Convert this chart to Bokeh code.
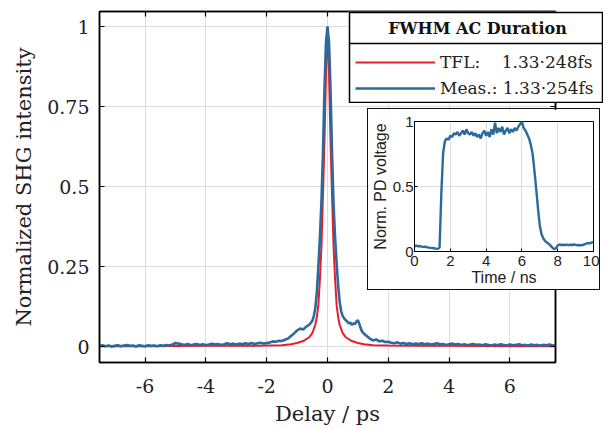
from bokeh.plotting import figure
from bokeh.models import Legend, LegendItem, Label, FixedTicker, LinearAxis, Range1d, Span
from bokeh.embed import file_html
from bokeh.resources import INLINE

# ---------------- data ----------------
tfl_delay = [-7.5, -6.0, -4.0, -3.0, -2.0, -1.5, -1.2, -1.0, -0.8, -0.6, -0.5, -0.4, -0.35,
             -0.3, -0.25, -0.2, -0.15, -0.1, -0.05, 0.0, 0.05, 0.1, 0.15, 0.2, 0.25, 0.3,
             0.35, 0.4, 0.5, 0.6, 0.8, 1.0, 1.2, 1.5, 2.0, 3.0, 4.0, 6.0, 7.5]
tfl_int = [0.001, 0.001, 0.002, 0.002, 0.003, 0.004, 0.007, 0.011, 0.017, 0.029, 0.042, 0.068, 0.092,
           0.13, 0.21, 0.31, 0.47, 0.64, 0.85, 1.0, 0.85, 0.64, 0.47, 0.31, 0.21, 0.13,
           0.092, 0.068, 0.042, 0.029, 0.017, 0.011, 0.007, 0.004, 0.003, 0.002, 0.002, 0.001, 0.001]

meas_delay = [-7.5, -7.4, -7.3, -7.2, -7.1, -7.0, -6.9, -6.8, -6.7, -6.6, -6.5, -6.4, -6.3, -6.2, -6.1,
              -6.0, -5.9, -5.8, -5.7, -5.6, -5.5, -5.4, -5.3, -5.2, -5.1, -5.0, -4.9, -4.8, -4.7, -4.6,
              -4.5, -4.4, -4.3, -4.2, -4.1, -4.0, -3.9, -3.8, -3.7, -3.6, -3.5, -3.4, -3.3, -3.2, -3.1,
              -3.0, -2.9, -2.8, -2.7, -2.6, -2.5, -2.4, -2.3, -2.2, -2.1, -2.0, -1.9, -1.8, -1.7, -1.6,
              -1.5, -1.4, -1.3, -1.2, -1.1, -1.0, -0.9, -0.8, -0.7, -0.6, -0.5, -0.45, -0.4, -0.35,
              -0.3, -0.25, -0.2, -0.15, -0.1, -0.05, 0.0, 0.05, 0.1, 0.15, 0.2, 0.25, 0.3, 0.35, 0.4,
              0.45, 0.5, 0.55, 0.6, 0.65, 0.7, 0.75, 0.8, 0.85, 0.9, 0.95, 1.0, 1.05, 1.1, 1.15, 1.2,
              1.3, 1.4, 1.5, 1.6, 1.7, 1.8, 1.9, 2.0, 2.1, 2.2, 2.3, 2.4, 2.5, 2.6, 2.7, 2.8, 2.9,
              3.0, 3.1, 3.2, 3.3, 3.4, 3.5, 3.6, 3.7, 3.8, 3.9, 4.0, 4.1, 4.2, 4.3, 4.4, 4.5, 4.6,
              4.7, 4.8, 4.9, 5.0, 5.1, 5.2, 5.3, 5.4, 5.5, 5.6, 5.7, 5.8, 5.9, 6.0, 6.1, 6.2, 6.3,
              6.4, 6.5, 6.6, 6.7, 6.8, 6.9, 7.0, 7.1, 7.2, 7.3, 7.4, 7.5]
meas_int = [0.002, 0.004, 0.001, 0.003, 0.000, 0.002, 0.004, 0.001, 0.003, 0.005, 0.002, 0.003, 0.000, 0.004, 0.002,
            0.001, 0.004, 0.002, 0.003, 0.001, 0.004, 0.002, 0.005, 0.003, 0.006, 0.011, 0.009, 0.007, 0.005, 0.008,
            0.004, 0.006, 0.008, 0.005, 0.007, 0.004, 0.006, 0.009, 0.006, 0.008, 0.005, 0.007, 0.010, 0.007, 0.009,
            0.006, 0.009, 0.007, 0.010, 0.008, 0.011, 0.008, 0.010, 0.012, 0.009, 0.011, 0.012, 0.016, 0.015, 0.018,
            0.017, 0.021, 0.025, 0.033, 0.041, 0.050, 0.056, 0.053, 0.062, 0.068, 0.080, 0.095, 0.12, 0.17,
            0.25, 0.34, 0.45, 0.60, 0.80, 0.95, 1.0, 0.95, 0.80, 0.60, 0.44, 0.34, 0.26, 0.19, 0.14,
            0.11, 0.095, 0.088, 0.082, 0.078, 0.072, 0.075, 0.068, 0.072, 0.070, 0.078, 0.082, 0.070, 0.055, 0.045, 0.040,
            0.032, 0.024, 0.019, 0.022, 0.016, 0.018, 0.014, 0.015, 0.012, 0.010, 0.013, 0.009, 0.011, 0.008, 0.010, 0.007, 0.009,
            0.008, 0.010, 0.007, 0.009, 0.006, 0.008, 0.010, 0.007, 0.008, 0.005, 0.007, 0.009, 0.006, 0.008, 0.005, 0.007, 0.004,
            0.006, 0.008, 0.005, 0.006, 0.004, 0.007, 0.005, 0.003, 0.006, 0.004, 0.007, 0.005, 0.003, 0.006, 0.004, 0.005, 0.007,
            0.004, 0.005, 0.003, 0.006, 0.004, 0.005, 0.003, 0.005, 0.004, 0.006, 0.003, 0.004]

pd_time = [0.0, 0.1, 0.2, 0.3, 0.4, 0.5, 0.6, 0.7, 0.8, 0.9, 1.0, 1.1, 1.2, 1.3, 1.4, 1.5, 1.6, 1.7, 1.8, 1.9,
           2.0, 2.1, 2.2, 2.3, 2.4, 2.5, 2.6, 2.7, 2.8, 2.9, 3.0, 3.1, 3.2, 3.3, 3.4, 3.5, 3.6, 3.7, 3.8, 3.9,
           4.0, 4.1, 4.2, 4.3, 4.4, 4.5, 4.6, 4.7, 4.8, 4.9, 5.0, 5.1, 5.2, 5.3, 5.4, 5.5, 5.6, 5.7, 5.8, 5.9,
           6.0, 6.1, 6.2, 6.3, 6.4, 6.5, 6.6, 6.7, 6.8, 6.9, 7.0, 7.1, 7.2, 7.3, 7.4, 7.5, 7.6, 7.7, 7.8, 7.9,
           8.0, 8.1, 8.2, 8.3, 8.4, 8.5, 8.6, 8.7, 8.8, 8.9, 9.0, 9.1, 9.2, 9.3, 9.4, 9.5, 9.6, 9.7, 9.8, 9.9, 10.0]
pd_volt = [0.040, 0.045, 0.040, 0.042, 0.038, 0.035, 0.037, 0.033, 0.030, 0.028, 0.027, 0.025, 0.022, 0.020, 0.030,
           0.45, 0.76, 0.85, 0.87, 0.86, 0.89, 0.88, 0.91, 0.90, 0.92, 0.89, 0.91, 0.93, 0.90, 0.94,
           0.91, 0.90, 0.92, 0.89, 0.91, 0.88, 0.90, 0.87, 0.91, 0.93, 0.89, 0.92, 0.88, 0.94, 0.90,
           0.99, 0.91, 0.95, 0.92, 0.96, 0.90, 0.93, 0.95, 0.91, 0.94, 0.92, 0.95, 0.93, 0.96, 0.98,
           1.0, 0.95, 0.93, 0.90, 0.87, 0.82, 0.75, 0.62, 0.48, 0.33, 0.20, 0.13, 0.10, 0.08, 0.068,
           0.060, 0.045, 0.030, 0.018, 0.025, 0.045, 0.055, 0.050, 0.052, 0.050, 0.053, 0.049, 0.052, 0.050, 0.054,
           0.051, 0.048, 0.050, 0.047, 0.050, 0.055, 0.060, 0.065, 0.062, 0.070, 0.072]

x_ticks = [-6, -4, -2, 0, 2, 4, 6]
x_tick_labels = ["-6", "-4", "-2", "0", "2", "4", "6"]
y_ticks = [0, 0.25, 0.5, 0.75, 1]
y_tick_labels = ["0", "0.25", "0.5", "0.75", "1"]
in_x_ticks = [0, 2, 4, 6, 8, 10]
in_x_tick_labels = ["0", "2", "4", "6", "8", "10"]
in_y_ticks = [0, 0.5, 1]
in_y_tick_labels = ["0", "0.5", "1"]

legend_title = "FWHM AC Duration"
legend_labels = ["TFL:\u00a0\u00a0\u00a0\u00a01.33\u00b7248fs", "Meas.:\u00a01.33\u00b7254fs"]

RED = "#E61E2B"
BLUE = "#2C6A9B"
SERIF = "DejaVu Serif"
SANS = "Liberation Sans"

# ---------------- main figure ----------------
p = figure(width=606, height=429, x_range=Range1d(-7.5, 7.5), y_range=Range1d(-0.05, 1.047),
           output_backend="svg", toolbar_location=None,
           min_border_left=99, min_border_right=51, min_border_top=11, min_border_bottom=67)
p.outline_line_color = "black"
p.outline_line_width = 1.5
p.background_fill_color = "white"
p.border_fill_color = "white"

r_tfl = p.line(tfl_delay, tfl_int, line_color=RED, line_width=2)
r_meas = p.line(meas_delay, meas_int, line_color=BLUE, line_width=2.6)

def style_axis(ax, ticks, labels, show_labels=True):
    ax.ticker = FixedTicker(ticks=ticks)
    ax.major_label_overrides = {t: l for t, l in zip(ticks, labels)}
    ax.minor_tick_line_color = None
    ax.major_tick_in = 5
    ax.major_tick_out = 0
    ax.axis_line_color = "black"
    ax.axis_line_width = 1.5
    ax.major_tick_line_color = "black"
    ax.major_tick_line_width = 1.2
    if show_labels:
        ax.major_label_text_font = SERIF
        ax.major_label_text_font_size = "19px"
        ax.major_label_text_color = "#222222"
    else:
        ax.major_label_text_font_size = "0px"
        ax.major_label_standoff = 0

xa = p.xaxis[0]
style_axis(xa, x_ticks, x_tick_labels)
xa.major_label_standoff = 16
xa.axis_label = "Delay / ps"
xa.axis_label_text_font = SERIF
xa.axis_label_text_font_size = "21px"
xa.axis_label_text_font_style = "normal"
xa.axis_label_text_color = "#222222"
xa.axis_label_standoff = 6

ya = p.yaxis[0]
style_axis(ya, y_ticks, y_tick_labels)
ya.major_label_standoff = 10
ya.axis_label = "Normalized SHG intensity"
ya.axis_label_text_font = SERIF
ya.axis_label_text_font_size = "21px"
ya.axis_label_text_font_style = "normal"
ya.axis_label_text_color = "#222222"
ya.axis_label_standoff = 8

top_ax = LinearAxis()
style_axis(top_ax, x_ticks, x_tick_labels, show_labels=False)
p.add_layout(top_ax, "above")
right_ax = LinearAxis()
style_axis(right_ax, y_ticks, y_tick_labels, show_labels=False)
p.add_layout(right_ax, "right")

p.xgrid.ticker = FixedTicker(ticks=x_ticks)
p.ygrid.ticker = FixedTicker(ticks=y_ticks)
p.grid.grid_line_color = "#dedede"
p.grid.grid_line_width = 1

# ---------------- legend panel (overlaid) ----------------
lg = figure(width=255, height=92, x_range=Range1d(0, 253), y_range=Range1d(0, 90),
            x_axis_type=None, y_axis_type=None, output_backend="svg", toolbar_location=None,
            min_border_left=1, min_border_right=1, min_border_top=1, min_border_bottom=1,
            styles={"position": "absolute", "left": "348px", "top": "11px", "z-index": "10"})
lg.outline_line_color = "black"
lg.outline_line_width = 1.5
lg.background_fill_color = "white"
lg.border_fill_color = "white"
lg.extra_x_ranges = {"hide": Range1d(1000, 1001)}
lr_tfl = lg.line(tfl_delay, tfl_int, line_color=RED, line_width=2, x_range_name="hide")
lr_meas = lg.line(meas_delay, meas_int, line_color=BLUE, line_width=2.6, x_range_name="hide")
lg.add_layout(Span(location=59, dimension="width", line_color="black", line_width=1.5))
lg.add_layout(Label(x=128, y=74.5, text=legend_title, text_align="center", text_baseline="middle",
                    text_font=SERIF, text_font_size="16px", text_font_style="bold", text_color="#111111"))
legend = Legend(items=[LegendItem(label=legend_labels[0], renderers=[lr_tfl]),
                       LegendItem(label=legend_labels[1], renderers=[lr_meas])],
                location=(6, 4), orientation="vertical",
                glyph_width=80, glyph_height=20, label_height=20,
                label_standoff=5, padding=6, spacing=6, margin=0,
                label_text_font=SERIF, label_text_font_size="17px", label_text_color="#222222",
                border_line_color=None, background_fill_alpha=0.0)
lg.add_layout(legend, "center")

# ---------------- inset ----------------
q = figure(width=233, height=182, x_range=Range1d(0, 10), y_range=Range1d(0, 1),
           output_backend="svg", toolbar_location=None,
           min_border_left=42, min_border_right=8, min_border_top=12, min_border_bottom=40,
           styles={"position": "absolute", "left": "367px", "top": "108px",
                   "border": "1.5px solid #111111", "z-index": "11"})
q.outline_line_color = "black"
q.outline_line_width = 1
q.background_fill_color = "white"
q.border_fill_color = "white"
q.line(pd_time, pd_volt, line_color=BLUE, line_width=2.4)

def style_inset_axis(ax, ticks, labels):
    ax.ticker = FixedTicker(ticks=ticks)
    ax.major_label_overrides = {t: l for t, l in zip(ticks, labels)}
    ax.minor_tick_line_color = None
    ax.major_tick_in = 3
    ax.major_tick_out = 0
    ax.axis_line_color = "black"
    ax.major_label_text_font = SANS
    ax.major_label_text_font_size = "15px"
    ax.major_label_text_color = "#222222"
    ax.axis_label_text_font = SANS
    ax.axis_label_text_font_size = "16px"
    ax.axis_label_text_font_style = "normal"
    ax.axis_label_text_color = "#222222"

style_inset_axis(q.xaxis[0], in_x_ticks, in_x_tick_labels)
q.xaxis[0].axis_label = "Time / ns"
q.xaxis[0].major_label_standoff = 4
q.xaxis[0].axis_label_standoff = 0
style_inset_axis(q.yaxis[0], in_y_ticks, in_y_tick_labels)
q.yaxis[0].axis_label = "Norm. PD voltage"
q.yaxis[0].major_label_standoff = 1
q.yaxis[0].axis_label_standoff = 1
q.xgrid.ticker = FixedTicker(ticks=in_x_ticks)
q.ygrid.ticker = FixedTicker(ticks=in_y_ticks)
q.grid.grid_line_color = "#dedede"

open("out.html", "w").write(file_html([p, lg, q], INLINE))
